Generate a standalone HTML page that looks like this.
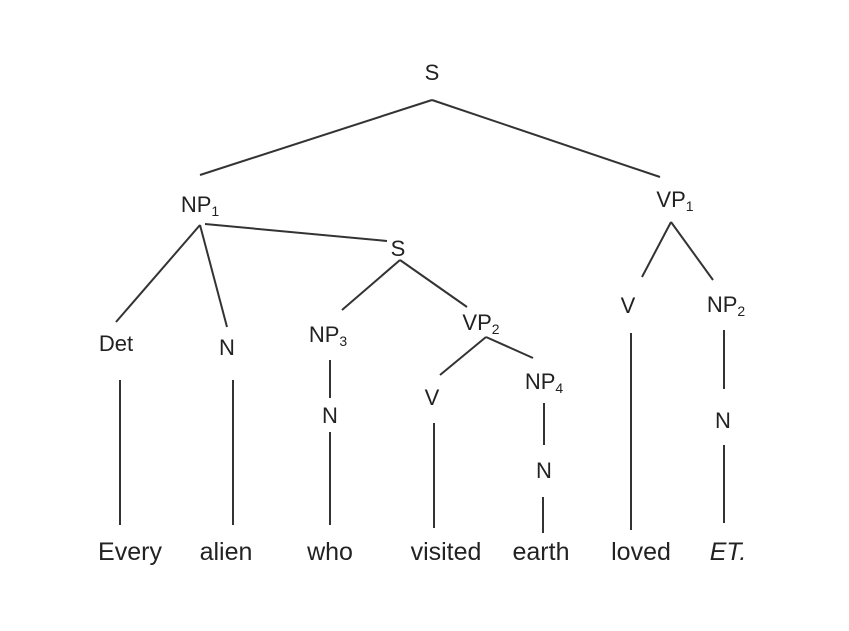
<!DOCTYPE html>
<html><head><style>body{margin:0;background:#fff}svg{display:block}text{font-family:"Liberation Sans",sans-serif;font-size:22px;fill:#222;text-anchor:middle}.w{font-size:25px}</style></head>
<body>
<svg width="849" height="631" xmlns="http://www.w3.org/2000/svg">
<g stroke="#333" stroke-width="2" fill="none">
<line x1="432" y1="100" x2="200" y2="175"/>
<line x1="432" y1="100" x2="660" y2="177"/>
<line x1="200" y1="225" x2="116" y2="322"/>
<line x1="200" y1="225" x2="227" y2="327"/>
<line x1="205" y1="224" x2="387" y2="241"/>
<line x1="400" y1="260" x2="342" y2="310"/>
<line x1="400" y1="260" x2="467" y2="307"/>
<line x1="120" y1="380" x2="120" y2="525"/>
<line x1="233" y1="380" x2="233" y2="525"/>
<line x1="330" y1="360" x2="330" y2="398"/>
<line x1="330" y1="432" x2="330" y2="525"/>
<line x1="486" y1="337" x2="440" y2="375"/>
<line x1="486" y1="337" x2="533" y2="358"/>
<line x1="434" y1="423" x2="434" y2="528"/>
<line x1="544" y1="403" x2="544" y2="445"/>
<line x1="543" y1="497" x2="543" y2="533"/>
<line x1="671" y1="222" x2="642" y2="277"/>
<line x1="671" y1="222" x2="713" y2="280"/>
<line x1="631" y1="333" x2="631" y2="530"/>
<line x1="724" y1="330" x2="724" y2="389"/>
<line x1="724" y1="445" x2="724" y2="523"/>
</g>
<text x="432" y="80">S</text>
<text x="200" y="212">NP<tspan font-size="14" dy="4">1</tspan></text>
<text x="398" y="256">S</text>
<text x="675" y="207">VP<tspan font-size="14" dy="4">1</tspan></text>
<text x="116" y="351">Det</text>
<text x="227" y="355">N</text>
<text x="328" y="342">NP<tspan font-size="14" dy="4">3</tspan></text>
<text x="330" y="423">N</text>
<text x="481" y="330">VP<tspan font-size="14" dy="4">2</tspan></text>
<text x="432" y="405">V</text>
<text x="544" y="389">NP<tspan font-size="14" dy="4">4</tspan></text>
<text x="544" y="478">N</text>
<text x="628" y="313">V</text>
<text x="726" y="312">NP<tspan font-size="14" dy="4">2</tspan></text>
<text x="723" y="428">N</text>
<text class="w" x="130" y="560">Every</text>
<text class="w" x="226" y="560">alien</text>
<text class="w" x="330" y="560">who</text>
<text class="w" x="446" y="560">visited</text>
<text class="w" x="541" y="560">earth</text>
<text class="w" x="641" y="560">loved</text>
<text class="w" x="728" y="560" font-style="italic">ET.</text>
</svg>
</body></html>
